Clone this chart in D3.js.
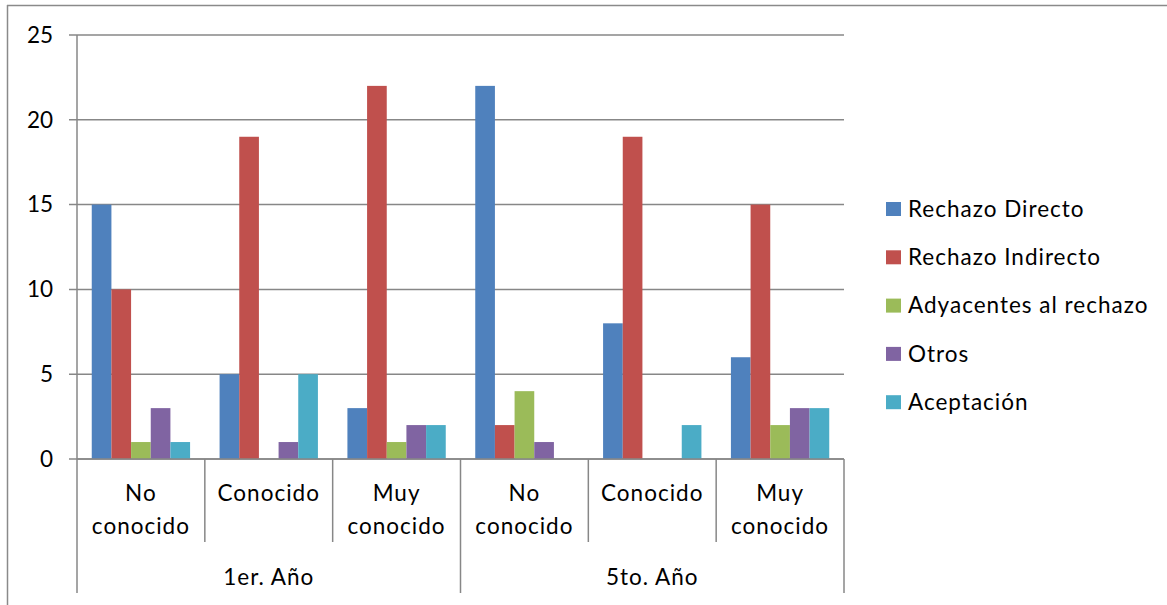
<!DOCTYPE html>
<html>
<head>
<meta charset="utf-8">
<script src="https://cdn.jsdelivr.net/npm/d3@7"></script>
<style>
  body { margin: 0; background: #fff; }
  text { font-family: Lato, "Open Sans", sans-serif; fill: #000; font-size: 22.5px; }
  .wide { letter-spacing: 1px; }
</style>
</head>
<body>
<script>
// Data
const years = ["1er. Año", "5to. Año"];
const levels = [["No", "conocido"], ["Conocido"], ["Muy", "conocido"]];
const seriesNames = ["Rechazo Directo", "Rechazo Indirecto", "Adyacentes al rechazo", "Otros", "Aceptación"];
const seriesColors = ["#4F81BD", "#C0504D", "#9BBB59", "#8064A2", "#4BACC6"];

// one value per category (year x level), in that order
const rechazoDirecto   = [15, 5, 3, 22, 8, 6];
const rechazoIndirecto = [10, 19, 22, 2, 19, 15];
const adyacentes       = [1, 0, 1, 4, 0, 2];
const otros            = [3, 1, 2, 1, 0, 3];
const aceptacion       = [1, 5, 2, 0, 2, 3];
const yTicks = [0, 5, 10, 15, 20, 25];

const seriesValues = [rechazoDirecto, rechazoIndirecto, adyacentes, otros, aceptacion];

const W = 1167, H = 605;
const margin = { top: 35, left: 77, right: 323, bottom: 146 };
const plotW = W - margin.left - margin.right;
const plotH = H - margin.top - margin.bottom;

const svg = d3.select("body").append("svg")
    .attr("width", W)
    .attr("height", H);

// outer chart border (only top and left edge visible in the frame)
svg.append("line").attr("x1", 7).attr("x2", W).attr("y1", 5.5).attr("y2", 5.5)
    .attr("stroke", "#8a8a8a").attr("stroke-width", 1.5);
svg.append("line").attr("x1", 7.5).attr("x2", 7.5).attr("y1", 5).attr("y2", H)
    .attr("stroke", "#8a8a8a").attr("stroke-width", 1.5);

const g = svg.append("g")
    .attr("transform", "translate(" + margin.left + "," + margin.top + ")");

// categories = every year/level pair
const cats = [];
years.forEach((yr, i) => levels.forEach((lv, j) => cats.push({ key: i + "-" + j, year: i, label: lv })));

const x0 = d3.scaleBand()
    .domain(cats.map(d => d.key))
    .range([0, plotW]);

// 150% gap width, like Excel's default
const x1 = d3.scaleBand()
    .domain(seriesNames)
    .range([0, x0.bandwidth()])
    .paddingInner(0)
    .paddingOuter(0.75);

const y = d3.scaleLinear()
    .domain([0, 25])
    .range([plotH, 0]);

const gridColor = "#878787";

// gridlines + y ticks
g.selectAll(".grid")
    .data(yTicks)
    .enter()
    .append("line")
    .attr("x1", -8)
    .attr("x2", plotW)
    .attr("y1", d => y(d))
    .attr("y2", d => y(d))
    .attr("stroke", gridColor)
    .attr("stroke-width", 1.5);

g.selectAll(".ylab")
    .data(yTicks)
    .enter()
    .append("text")
    .attr("x", -24)
    .attr("y", d => y(d))
    .attr("dy", "0.35em")
    .attr("text-anchor", "end")
    .text(d => d);

// bars
const catG = g.selectAll(".cat")
    .data(cats)
    .enter()
    .append("g")
    .attr("transform", d => "translate(" + x0(d.key) + ",0)");

catG.selectAll("rect")
    .data((d, ci) => seriesNames.map((s, si) => ({ s: s, si: si, v: seriesValues[si][ci] })))
    .enter()
    .append("rect")
    .attr("x", d => x1(d.s))
    .attr("width", x1.bandwidth())
    .attr("y", d => y(d.v))
    .attr("height", d => plotH - y(d.v))
    .attr("fill", d => seriesColors[d.si]);

// x axis line (the 0 gridline) drawn again on top of bars
g.append("line")
    .attr("x1", 0).attr("x2", plotW)
    .attr("y1", plotH).attr("y2", plotH)
    .attr("stroke", gridColor).attr("stroke-width", 1.5);

// y axis line, continues down through the category labels
g.append("line")
    .attr("x1", 0).attr("x2", 0)
    .attr("y1", 0).attr("y2", plotH + 134)
    .attr("stroke", gridColor).attr("stroke-width", 1.5);

// category separators
d3.range(1, cats.length + 1).forEach(i => {
    const xx = i * x0.step();
    const outer = i % levels.length === 0;
    g.append("line")
        .attr("x1", xx).attr("x2", xx)
        .attr("y1", plotH).attr("y2", plotH + (outer ? 134 : 83))
        .attr("stroke", gridColor).attr("stroke-width", 1.5);
});

// inner category labels
catG.each(function (d) {
    const t = d3.select(this).append("text")
        .attr("class", "wide")
        .attr("text-anchor", "middle");
    d.label.forEach((line, k) => {
        t.append("tspan")
            .attr("x", x0.bandwidth() / 2)
            .attr("y", plotH + 34 + k * 33)
            .attr("dy", "0.35em")
            .text(line);
    });
});

// year labels
g.selectAll(".year")
    .data(years)
    .enter()
    .append("text")
    .attr("class", "wide")
    .attr("x", (d, i) => (i + 0.5) * levels.length * x0.step())
    .attr("y", plotH + 118)
    .attr("dy", "0.35em")
    .attr("text-anchor", "middle")
    .text(d => d);

// legend
const legend = svg.append("g")
    .attr("transform", "translate(886,209)");

const item = legend.selectAll(".item")
    .data(seriesNames)
    .enter()
    .append("g")
    .attr("transform", (d, i) => "translate(0," + i * 48.3 + ")");

item.append("rect")
    .attr("x", 0)
    .attr("y", -7)
    .attr("width", 15)
    .attr("height", 14)
    .attr("fill", (d, i) => seriesColors[i]);

item.append("text")
    .attr("class", "wide")
    .attr("x", 22)
    .attr("y", 0)
    .attr("dy", "0.35em")
    .text(d => d);
</script>
</body>
</html>
